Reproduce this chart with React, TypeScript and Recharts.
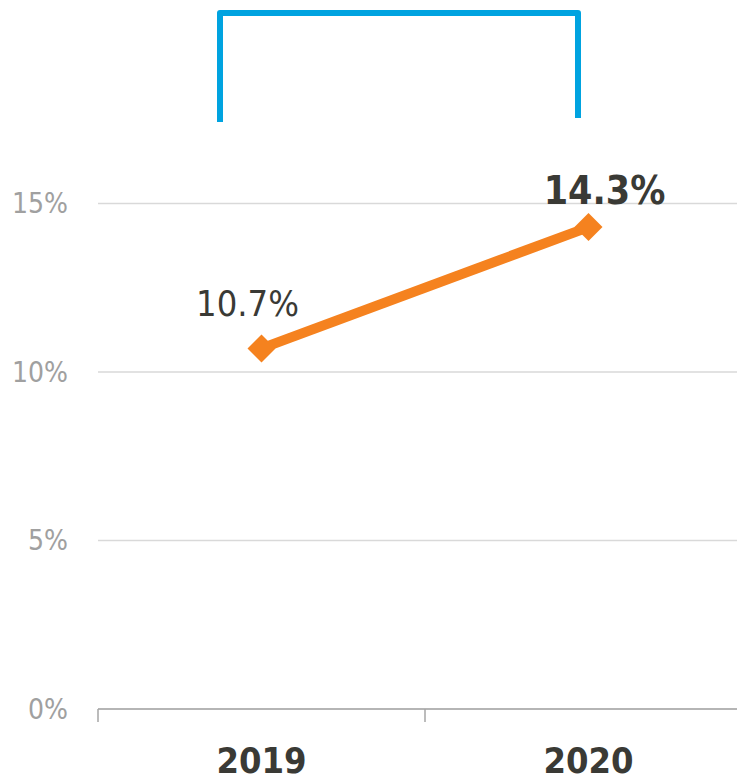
import React from 'react';
import { LineChart, Line, XAxis, YAxis, CartesianGrid, LabelList, Customized } from 'recharts';

const years = ['2019', '2020'];
const rates = [10.7, 14.3];
const rateLabels = ['10.7%', '14.3%'];
const yTicks = [0, 5, 10, 15];

const data = years.map((year, i) => ({ year, rate: rates[i], label: rateLabels[i] }));

const FONT = '"Liberation Sans Narrow", "DejaVu Sans Condensed", "Open Sans", sans-serif';
const ORANGE = '#F5821F';
const BLUE = '#00A3E0';
const DARK = '#3A3A35';

const Diamond = (props: any) => {
  const { cx, cy } = props;
  if (cx == null || cy == null) return null;
  const r = 14;
  return (
    <polygon
      points={`${cx},${cy - r} ${cx + r},${cy} ${cx},${cy + r} ${cx - r},${cy}`}
      fill={ORANGE}
      stroke="none"
    />
  );
};

const XTick = (props: any) => {
  const { x, y, payload } = props;
  const off = payload && payload.offset != null ? payload.offset : 163.5;
  return (
    <g>
      <line x1={x - off} y1={y} x2={x - off} y2={y + 13} stroke="#A6A6A6" strokeWidth={1.5} />
      <text x={x} y={y + 64} textAnchor="middle" fontFamily={FONT} fontSize={36} fontWeight={700} fill={DARK}>
        {payload.value}
      </text>
    </g>
  );
};

const ValueLabel = (props: any) => {
  const { x, y, value, index } = props;
  const bold = index === rates.length - 1;
  return (
    <text
      x={x + (bold ? 16 : -14)}
      y={y - (bold ? 23 : 32)}
      textAnchor="middle"
      fontFamily={FONT}
      fontSize={bold ? 39 : 36}
      fontWeight={bold ? 700 : 400}
      fill={DARK}
    >
      {value}
    </text>
  );
};

const Bracket = () => (
  <path
    d="M220,122 L220,13 L578,13 L578,118"
    fill="none"
    stroke={BLUE}
    strokeWidth={6}
    strokeLinejoin="round"
  />
);

export default function App() {
  return (
    <div style={{ position: 'absolute', left: 0, top: 0, width: 737, height: 782, overflow: 'hidden', background: '#fff' }}>
      <LineChart width={752} height={782} data={data} margin={{ top: 35, right: 0, bottom: 0, left: 0 }}>
        <CartesianGrid vertical={false} stroke="#D9D9D9" strokeWidth={1.5} horizontalValues={yTicks} syncWithTicks />
        <XAxis
          dataKey="year"
          scale="band"
          height={73}
          axisLine={{ stroke: '#A6A6A6', strokeWidth: 1.5 }}
          tickLine={false}
          tickSize={0}
          tickMargin={0}
          tick={<XTick />}
          interval={0}
        />
        <YAxis
          width={98}
          domain={[0, 20]}
          ticks={yTicks}
          axisLine={false}
          tickLine={false}
          tickSize={0}
          tickMargin={30}
          tickFormatter={(v: number) => `${v}%`}
          tick={{ fill: '#A0A0A0', fontSize: 28, fontFamily: FONT }}
        />
        <Line
          dataKey="rate"
          stroke={ORANGE}
          strokeWidth={10}
          dot={<Diamond />}
          activeDot={false}
          isAnimationActive={false}
        >
          <LabelList dataKey="label" content={<ValueLabel />} />
        </Line>
        <Customized component={Bracket} />
      </LineChart>
    </div>
  );
}
